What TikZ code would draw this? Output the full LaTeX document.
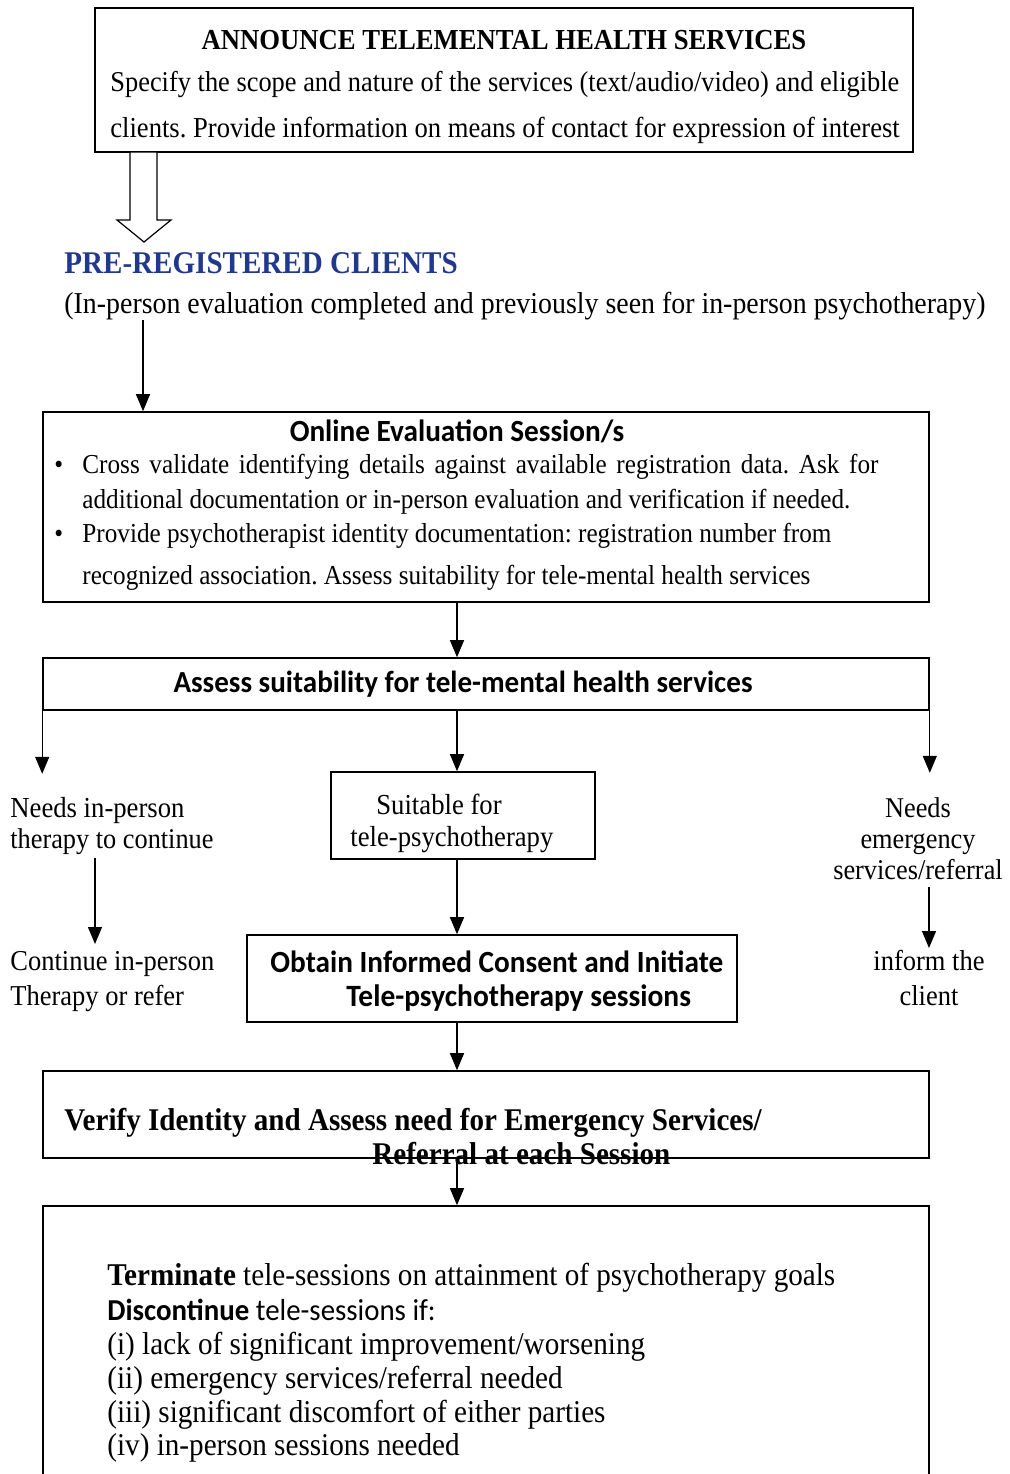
\documentclass[tikz,border=0pt]{standalone}
\usepackage{fontspec}
\setmainfont{Liberation Serif}[FakeStretch=0.92]
\newfontfamily\calfont{Carlito}[FakeStretch=0.95]
\usetikzlibrary{arrows.meta,positioning,calc}
\definecolor{headblue}{RGB}{32,56,142}
\newcommand\fs[1]{\fontsize{#1}{17}\selectfont}
\frenchspacing

\tikzset{
  box/.style={draw,line width=0.8pt,inner sep=0pt},
  arr/.style={draw,line width=0.6pt,-{Triangle[width=7pt,length=8.5pt]}},
  lbl/.style={inner sep=0pt,anchor=base west,font=\fs{14.4}},
  clbl/.style={lbl,anchor=base},
  calb/.style={lbl,font=\calfont\bfseries\fs{15.4}},
}

\begin{document}
\begin{tikzpicture}[x=0.5pt,y=-0.5pt]
\useasboundingbox (0,0) rectangle (1009,1474);
\clip (0,0) rectangle (1009,1474);
\coordinate (spine) at (457,0);

% announcement
\node[box,minimum width=409pt,minimum height=72pt] (announce) at (504,80) {};
\node[clbl,font=\bfseries\fs{14.5}] (anntitle) at (504,49) {ANNOUNCE TELEMENTAL HEALTH SERVICES};
\node[lbl,font=\fs{14.35}] (annone) at (110,91) {Specify the scope and nature of the services (text/audio/video) and eligible};
\node[lbl,font=\fs{14.45}] (anntwo) at (110,137) {clients. Provide information on means of contact for expression of interest};
\draw[line width=0.6pt,fill=white] (130,152)--(157,152)--(157,220)--(171,220)--(144,242)--(117,220)--(130,220)--cycle;

% pre-registered clients
\node[lbl,font=\bfseries\fs{15.8},text=headblue] (pretitle) at (64,273) {PRE-REGISTERED CLIENTS};
\node[lbl,font=\fs{15.15}] (prenote) at (64,313) {(In-person evaluation completed and previously seen for in-person psychotherapy)};
\coordinate (preout) at (143,320);

% online evaluation
\node[box,minimum width=443pt,minimum height=95pt] (online) at (486,507) {};
\node[calb,anchor=base] (onlinetitle) at (457,441) {Online Evaluation Session/s};
\begin{scope}[every node/.style={lbl,font=\fs{13.7}}]
\node (bulone) at (54,473) {\textbullet};
\node (onlineone) at (82,473) {\makebox[398pt][s]{Cross validate identifying details against available registration data. Ask for}};
\node (onlinetwo) at (82,508) {additional documentation or in-person evaluation and verification if needed.};
\node (bultwo) at (54,542) {\textbullet};
\node (onlinethree) at (82,542) {Provide psychotherapist identity documentation: registration number from};
\node (onlinefour) at (82,584) {recognized association. Assess suitability for tele-mental health services};
\end{scope}

% assess suitability
\node[box,minimum width=443pt,minimum height=26pt] (assess) at (486,684) {};
\node[calb,anchor=base,font=\calfont\bfseries\fs{15.3}] (assesstxt) at (463,692) {Assess suitability for tele-mental health services};

% three outcomes
\node[lbl,font=\fs{14.5}] (needsin) at (10,817) {Needs in-person};
\node[lbl,font=\fs{14.3}] (needsintwo) at (10,848) {therapy to continue};
\node[box,minimum width=132pt,minimum height=43.5pt] (suitable) at (463,815.5) {};
\node[lbl,font=\fs{14.5}] (suitone) at (376,814) {Suitable for};
\node[lbl,font=\fs{14.5}] (suittwo) at (350,846) {tele-psychotherapy};
\node[clbl,font=\fs{14.3}] (needsem) at (918,817) {Needs};
\node[clbl,font=\fs{14.3}] (needsemtwo) at (918,848) {emergency};
\node[clbl,font=\fs{14.3}] (needsemthree) at (918,879) {services/referral};

\node[lbl] (contin) at (10,970) {Continue in-person};
\node[lbl] (contintwo) at (10,1005) {Therapy or refer};
\node[box,minimum width=245pt,minimum height=43.5pt] (consent) at (492,978.5) {};
\node[calb] (consentone) at (270,972) {Obtain Informed Consent and Initiate};
\node[calb,font=\calfont\bfseries\fs{15.5}] (consenttwo) at (346,1006) {Tele-psychotherapy sessions};
\node[clbl] (inform) at (929,970) {inform the};
\node[clbl] (informtwo) at (929,1005) {client};

% verify and terminate
\node[box,minimum width=443pt,minimum height=43.5pt] (verify) at (486,1114.5) {};
\node[lbl,font=\bfseries\fs{15.8}] (verifyone) at (64,1130) {Verify Identity and Assess need for Emergency Services/};
\node[lbl,font=\bfseries\fs{15.8}] (verifytwo) at (372,1164) {Referral at each Session};
\node[box,minimum width=443pt,minimum height=160pt] (terminate) at (486,1366) {};
\begin{scope}[every node/.style={lbl,font=\fs{15.85}}]
\node (termone) at (107,1285) {\textbf{Terminate} tele-sessions on attainment of psychotherapy goals};
\node[font=\calfont\fs{15.2}] (termtwo) at (107,1320) {\textbf{Discontinue} tele-sessions if:};
\node (termthree) at (107,1354) {(i) lack of significant improvement/worsening};
\node (termfour) at (107,1388) {(ii) emergency services/referral needed};
\node (termfive) at (107,1422) {(iii) significant discomfort of either parties};
\node (termsix) at (107,1455) {(iv) in-person sessions needed};
\end{scope}

% connectors
\coordinate (leftdrop) at (95,858);
\coordinate (rightdrop) at (929,887);
\draw[arr] (preout) -- (preout |- online.north);
\draw[arr] (online.south -| spine) -- (assess.north -| spine);
\draw[arr] (assess.south west) -- ++(0,63);
\draw[arr] (assess.south -| spine) -- (suitable.north -| spine);
\draw[arr] (assess.south east) -- ++(0,62);
\draw[arr] (leftdrop) -- ++(0,86);
\draw[arr] (suitable.south -| spine) -- (consent.north -| spine);
\draw[arr] (rightdrop) -- ++(0,61);
\draw[arr] (consent.south -| spine) -- (verify.north -| spine);
\draw[arr] (verify.south -| spine) -- (terminate.north -| spine);
\end{tikzpicture}
\end{document}
